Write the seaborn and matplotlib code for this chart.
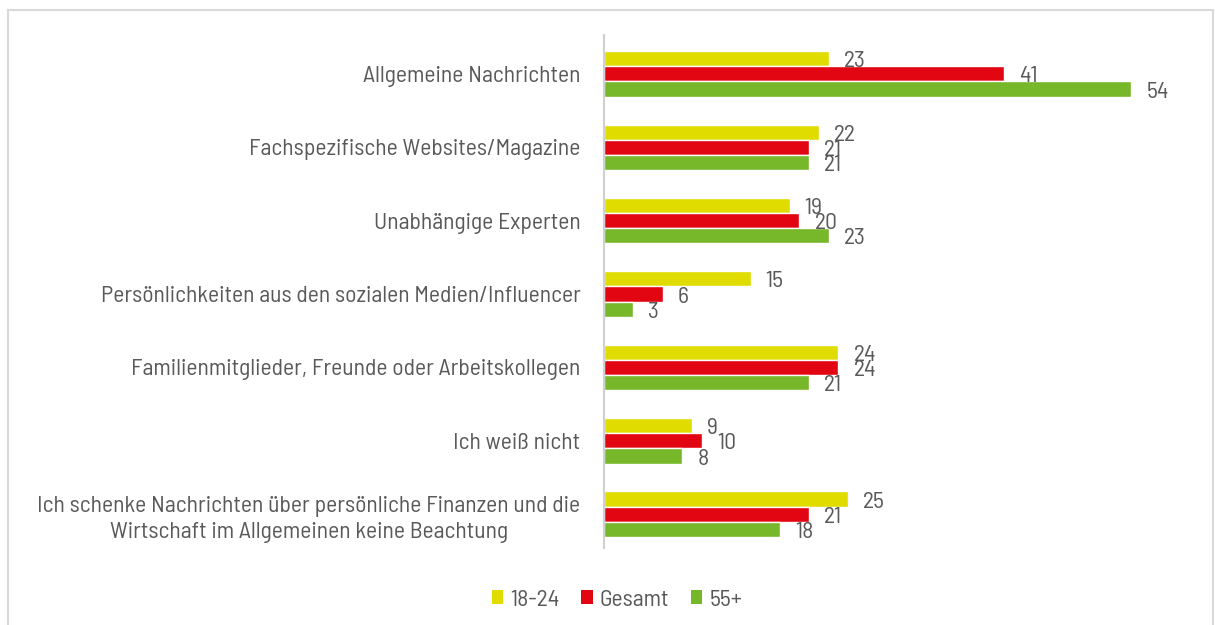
import matplotlib
matplotlib.use("Agg")
import matplotlib.pyplot as plt
from matplotlib.patches import Rectangle, Patch
import seaborn as sns
import pandas as pd

categories = [
    "Allgemeine Nachrichten",
    "Fachspezifische Websites/Magazine",
    "Unabhängige Experten",
    "Persönlichkeiten aus den sozialen Medien/Influencer",
    "Familienmitglieder, Freunde oder Arbeitskollegen",
    "Ich weiß nicht",
    "Ich schenke Nachrichten über persönliche Finanzen und die\nWirtschaft im Allgemeinen keine Beachtung",
]
series = ["18-24", "Gesamt", "55+"]
values_18_24 = [23, 22, 19, 15, 24, 9, 25]
values_gesamt = [41, 21, 20, 6, 24, 10, 21]
values_55 = [54, 21, 23, 3, 21, 8, 18]
colors = ["#E0DC00", "#E20613", "#76B82A"]

rows = []
for s, vals in zip(series, [values_18_24, values_gesamt, values_55]):
    for c, v in zip(categories, vals):
        rows.append({"Kategorie": c, "Gruppe": s, "Wert": v})
df = pd.DataFrame(rows)

sns.set_theme(style="white")
plt.rcParams["font.family"] = ["Barlow Semi Condensed", "DejaVu Sans"]
text_color = "#595959"
fs = 17

fig = plt.figure(figsize=(12.15, 6.25), dpi=100)
ax = fig.add_axes([604 / 1215, 1 - 548 / 625, (1190 - 604) / 1215, (548 - 35) / 625])

sns.barplot(data=df, y="Kategorie", x="Wert", hue="Gruppe", order=categories,
            hue_order=series, palette=colors, orient="h", width=0.62,
            saturation=1, ax=ax, legend=False)

ax.set_xlim(0, 60)
ax.set_ylim(6.46, -0.53)
ax.set_xlabel("")
ax.set_ylabel("")
ax.set_xticks([])
for sp in ["top", "right", "bottom"]:
    ax.spines[sp].set_visible(False)
ax.spines["left"].set_color("#D0D0D0")
ax.spines["left"].set_linewidth(1.5)
ax.tick_params(axis="y", length=0, pad=17, labelsize=fs, labelcolor=text_color)
for lbl in ax.get_yticklabels():
    lbl.set_multialignment("center")
    lbl.set_linespacing(1.3)

# value labels placed just past each bar end, nudged slightly downward
for container in ax.containers:
    for bar in container:
        w = bar.get_width()
        ax.annotate(f"{w:.0f}", xy=(w + 1.55, bar.get_y() + bar.get_height() / 2),
                    xytext=(0, -2.2), textcoords="offset points",
                    ha="left", va="center", fontsize=fs, color=text_color)

handles = [Patch(facecolor=c, edgecolor="none") for c in colors]
fig.legend(handles, series, loc="center", bbox_to_anchor=(617 / 1215, 1 - 600 / 625),
           ncol=3, frameon=False, fontsize=fs, labelcolor=text_color,
           handlelength=0.5, handleheight=0.5, handletextpad=0.3, columnspacing=0.9)

# light frame around the chart area
fig.patches.append(Rectangle((8 / 1215, -0.1), (1213 - 8) / 1215, 1.1 - 10 / 625,
                             transform=fig.transFigure, fill=False,
                             edgecolor="#D9D9D9", linewidth=1.5))

fig.savefig("out.png", dpi=100, facecolor="white")
